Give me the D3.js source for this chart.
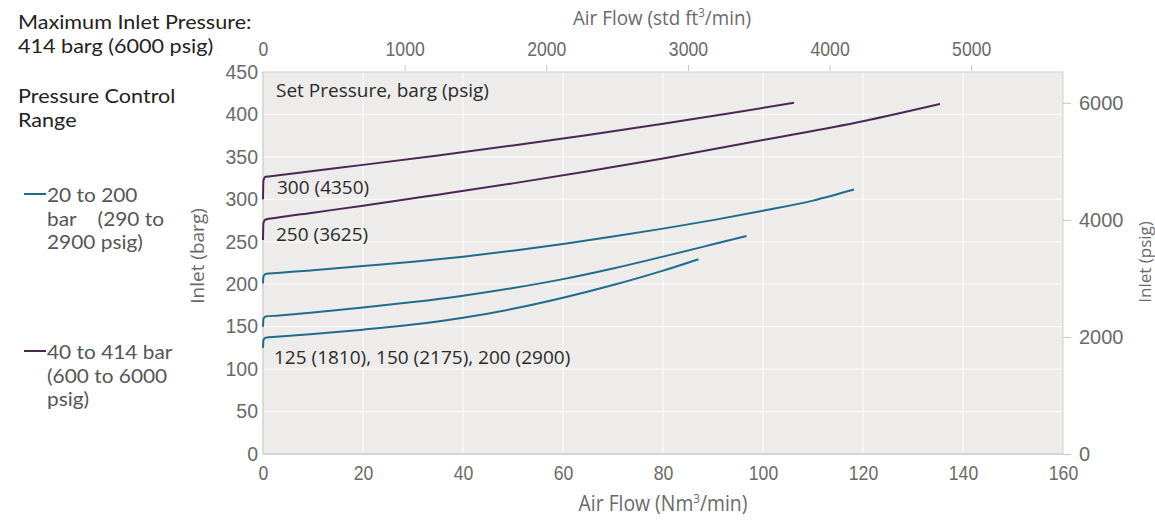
<!DOCTYPE html>
<html><head><meta charset="utf-8">
<script src="https://cdn.jsdelivr.net/npm/d3@7/dist/d3.min.js"></script>
<style>
html,body{margin:0;padding:0;background:#fff;}
svg{display:block;font-family:"Open Sans",sans-serif;}
</style></head>
<body>
<svg id="chart" width="1155" height="520"></svg>
<script>
// ---- data ----
const xTicksBottom = [0, 20, 40, 60, 80, 100, 120, 140, 160];
const yTicksLeft = [0, 50, 100, 150, 200, 250, 300, 350, 400, 450];
const yTicksRight = [0, 2000, 4000, 6000];
const xTicksTop = [0, 1000, 2000, 3000, 4000, 5000];

const flow300 = [0, 0.08, 0.5, 2.7, 10, 20, 35, 50, 65, 80, 95, 106.2];
const inlet300 = [300, 322, 326.5, 328, 333.4, 340.6, 351.7, 363.5, 375.8, 389, 402.8, 413.8];

const flow250 = [0, 0.08, 0.5, 2.7, 10, 20, 35, 50, 65, 80, 100, 120, 135.4];
const inlet250 = [252, 272, 276.3, 278.3, 284.3, 292.5, 305.5, 318.8, 333, 348.2, 369.9, 392, 412.3];

const flow200 = [0, 0.08, 0.5, 2.7, 10, 20, 30, 40, 50, 60, 70, 80, 90, 100, 110, 118.2];
const inlet200 = [201, 209, 212, 213.2, 216.6, 221.5, 226.5, 232.5, 239.5, 247.5, 256.2, 265.5, 275.5, 286.5, 298.5, 311.5];

const flow150 = [0, 0.08, 0.5, 2.7, 10, 20, 30, 40, 50, 60, 70, 80, 90, 96.7];
const inlet150 = [150, 159, 161.9, 163, 166.8, 172.5, 179, 186.5, 195.5, 206, 218.5, 232.5, 247, 256.8];

const flow125 = [0, 0.08, 0.5, 2.7, 10, 20, 30, 40, 50, 60, 70, 80, 87.1];
const inlet125 = [125, 134, 137, 138, 141.3, 146.5, 152.5, 160.5, 171, 184, 199, 216, 229.5];

const seriesNames = ["300", "250", "200", "150", "125"];
const seriesGroup = ["high", "high", "low", "low", "low"];
const seriesFlow = [flow300, flow250, flow200, flow150, flow125];
const seriesInlet = [inlet300, inlet250, inlet200, inlet150, inlet125];

const legendLabels = [
  ["20 to 200", "bar    (290 to", "2900 psig)"],
  ["40 to 414 bar", "(600 to 6000", "psig)"]
];
const sideTitles = [
  ["Maximum Inlet Pressure:", "414 barg (6000 psig)"],
  ["Pressure Control", "Range"]
];
const PSIG_PER_BAR = 14.5038;
const SCFM_PER_NM3 = 35.3;

// ---- layout ----
const svg = d3.select("#chart");
const m = {left: 263, right: 1063, top: 72, bottom: 454};
const x = d3.scaleLinear().domain([0, 160]).range([m.left, m.right]);
const y = d3.scaleLinear().domain([0, 450]).range([m.bottom, m.top]);
const yR = d3.scaleLinear().domain([0, 450 * PSIG_PER_BAR]).range([m.bottom, m.top]);
const xT = d3.scaleLinear().domain([0, 160 * SCFM_PER_NM3]).range([m.left, m.right]);

const colors = {high: "#4b2554", low: "#1f6b8b"};
const tickColor = "#6a6a6a";

// plot background
svg.append("rect").attr("x", m.left).attr("y", m.top)
  .attr("width", m.right - m.left).attr("height", m.bottom - m.top)
  .attr("fill", "#edeceb").attr("stroke", "#d9d8d6").attr("stroke-width", 1.2);

// grid
const grid = svg.append("g");
grid.selectAll("line.v").data(xTicksBottom.slice(1, -1)).join("line")
  .attr("x1", d => x(d)).attr("x2", d => x(d))
  .attr("y1", m.top + 1).attr("y2", m.bottom - 1)
  .attr("stroke", "#fafafa").attr("stroke-width", 1.3);
grid.selectAll("line.h").data(yTicksLeft.slice(1, -1)).join("line")
  .attr("x1", m.left + 1).attr("x2", m.right - 1)
  .attr("y1", d => y(d)).attr("y2", d => y(d))
  .attr("stroke", "#fafafa").attr("stroke-width", 1.3);
svg.append("line").attr("x1", m.left).attr("x2", m.right).attr("y1", m.bottom).attr("y2", m.bottom)
  .attr("stroke", "#cfcfcf").attr("stroke-width", 1.5);
svg.append("line").attr("x1", m.left).attr("x2", m.left).attr("y1", m.top).attr("y2", m.bottom)
  .attr("stroke", "#d6d6d6").attr("stroke-width", 1.2);

// axes
function styleAxis(g, size, sx) {
  g.select(".domain").remove();
  g.selectAll(".tick line").attr("stroke", "#c4c4c4");
  const t = g.selectAll(".tick text").attr("fill", tickColor).attr("font-size", size);
  if (sx) t.attr("transform", `scale(${sx},1)`);
}
const fmt = d3.format("d");
const axB = svg.append("g").attr("transform", `translate(0,${m.bottom})`)
  .call(d3.axisBottom(x).tickValues(xTicksBottom).tickFormat(fmt).tickSize(0).tickPadding(11));
styleAxis(axB, 21, 0.84);
const axL = svg.append("g").attr("transform", `translate(${m.left},0)`)
  .call(d3.axisLeft(y).tickValues(yTicksLeft).tickFormat(fmt).tickSize(0).tickPadding(5));
styleAxis(axL, 19.5);
const axR = svg.append("g").attr("transform", `translate(${m.right},0)`)
  .call(d3.axisRight(yR).tickValues(yTicksRight).tickFormat(fmt).tickSize(8).tickPadding(8));
styleAxis(axR, 20);
const axT = svg.append("g").attr("transform", `translate(0,${m.top - 1})`)
  .call(d3.axisTop(xT).tickValues(xTicksTop).tickFormat(fmt).tickSize(6).tickPadding(9));
styleAxis(axT, 20.5, 0.86);
axT.selectAll(".tick").filter(d => d === 0).select("line").remove();

// axis titles
svg.append("text").attr("transform", `translate(${x(80)},511) scale(0.9,1)`).attr("text-anchor", "middle")
  .attr("fill", tickColor).attr("font-size", 21.5)
  .html('Air Flow (Nm<tspan dy="-8" font-size="13">3</tspan><tspan dy="8">/min)</tspan>');
svg.append("text").attr("transform", "translate(662,25) scale(0.92,1)").attr("text-anchor", "middle")
  .attr("fill", tickColor).attr("font-size", 20.5)
  .html('Air Flow (std ft<tspan dy="-8" font-size="12.5">3</tspan><tspan dy="8">/min)</tspan>');
svg.append("text").attr("transform", "translate(204,256) rotate(-90)").attr("text-anchor", "middle")
  .attr("fill", tickColor).attr("font-size", 19).text("Inlet (barg)");
svg.append("text").attr("transform", "translate(1151,262) rotate(-90)").attr("text-anchor", "middle")
  .attr("fill", tickColor).attr("font-size", 17).text("Inlet (psig)");

// curves
const line = d3.line().x(d => x(d[0])).y(d => y(d[1])).curve(d3.curveMonotoneX);
seriesNames.forEach((n, i) => {
  const pts = seriesFlow[i].map((f, j) => [f, seriesInlet[i][j]]);
  svg.append("path").datum(pts).attr("d", line).attr("fill", "none")
    .attr("stroke", colors[seriesGroup[i]]).attr("stroke-width", 2);
});

// annotations inside plot
const ann = svg.append("g").attr("fill", "#2a2a2a").attr("font-size", 19);
ann.append("text").attr("x", 276).attr("y", 97).text("Set Pressure, barg (psig)");
ann.append("text").attr("x", 277).attr("y", 194).text("300 (4350)");
ann.append("text").attr("x", 276).attr("y", 241).text("250 (3625)");
ann.append("text").attr("x", 274).attr("y", 364).text("125 (1810), 150 (2175), 200 (2900)");

// stacked side text (Lato: compact line box so stacked lines do not collide)
function stacked(lines, x0, y0, lh, size, sx, fill) {
  lines.forEach((t, k) => {
    svg.append("text")
      .attr("transform", `translate(${x0},${y0 + k * lh}) scale(${sx},1)`)
      .attr("fill", fill).attr("font-size", size).attr("font-family", "Lato, sans-serif")
      .style("white-space", "pre").text(t);
  });
}
stacked(sideTitles[0], 18, 29, 24, 19.8, 1.09, "#222");
stacked(sideTitles[1], 18, 103, 24, 19.8, 1.09, "#222");

// legend
const legY = [194, 351];
["low", "high"].forEach((g, i) => {
  svg.append("line").attr("x1", 24).attr("x2", 46).attr("y1", legY[i]).attr("y2", legY[i])
    .attr("stroke", colors[g]).attr("stroke-width", 2);
  stacked(legendLabels[i], 47, legY[i] + 8, 23.5, 19.5, 1.07, "#555");
});
</script>
</body></html>
